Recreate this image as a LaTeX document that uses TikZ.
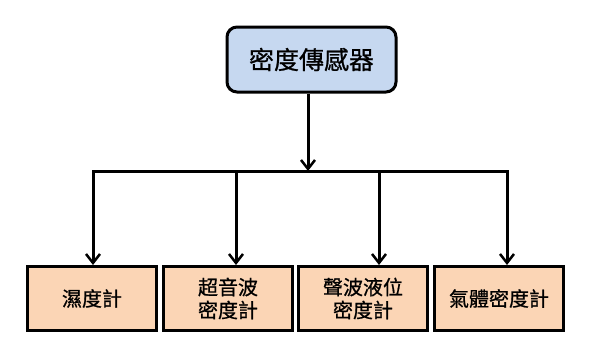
\documentclass[tikz,border=0pt]{standalone}
\usepackage{fontspec}
\setmainfont{Noto Sans CJK TC}[FakeBold=0.8]
\usetikzlibrary{arrows.meta}
\definecolor{topfill}{HTML}{C6D8F0}
\definecolor{botfill}{HTML}{FBD5B5}
\tikzset{
  topbox/.style={draw=black, fill=topfill, line width=3pt, rounded corners=10pt, minimum width=169pt, minimum height=65pt, inner sep=0pt, font=\fontsize{25}{28}\selectfont},
  botbox/.style={draw=black, fill=botfill, line width=3pt, minimum width=129pt, minimum height=64pt, inner sep=0pt, align=center, font=\fontsize{20}{23}\selectfont},
  conn/.style={line width=3pt},
  arr/.style={line width=3pt, -{Straight Barb[length=9pt,width=14pt,line width=2.5pt]}}
}
\begin{document}
\begin{tikzpicture}[x=1pt,y=-1pt]
\useasboundingbox (0,0) rectangle (600,362);
\node[topbox] (top) at (311.5,59.5) {密度傳感器};
\node[botbox] (b1) at (92,298.5) {濕度計};
\node[botbox] (b2) at (228,298.5) {超音波\\密度計};
\node[botbox] (b3) at (363,298.5) {聲波液位\\密度計};
\node[botbox] (b4) at (499,298.5) {氣體密度計};
\coordinate (j) at (308,171);
\coordinate (hl) at (93,171);
\coordinate (hr) at (507,171);
\coordinate (h2) at (236,171);
\coordinate (h3) at (379,171);
\draw[arr] (top.south -| j) -- (j);
\draw[conn, line cap=rect] (hl) -- (hr);
\draw[arr] (hl) -- (hl |- b1.north);
\draw[arr] (h2) -- (h2 |- b2.north);
\draw[arr] (h3) -- (h3 |- b3.north);
\draw[arr] (hr) -- (hr |- b4.north);
\end{tikzpicture}
\end{document}
